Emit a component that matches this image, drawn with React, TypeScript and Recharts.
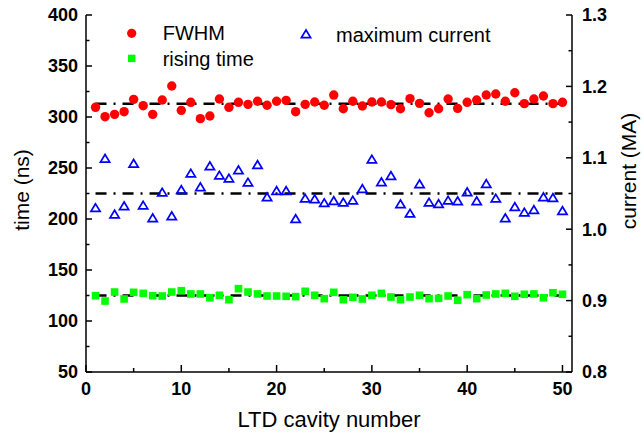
import React from 'react';
import { ScatterChart, Scatter, XAxis, YAxis, ReferenceLine, Legend } from 'recharts';

const cavity = [1,2,3,4,5,6,7,8,9,10,11,12,13,14,15,16,17,18,19,20,21,22,23,24,25,26,27,28,29,30,31,32,33,34,35,36,37,38,39,40,41,42,43,44,45,46,47,48,49,50];
const fwhm = [309.5,300.3,302.6,305.2,317.3,311.1,302.6,316.7,330.4,306.5,314.4,298.4,301,317.6,309.5,314.4,312.4,315.4,311.5,315.4,316.3,305.2,312.4,314.7,311.5,321.5,308.1,315.4,310.8,314.7,314.7,312.1,308.1,318,313.4,304.2,308.1,317.6,308.5,314.4,316.7,321.6,322.5,315.4,323.8,313.1,317.6,320.6,313.1,314.4];
const risingTime = [124.8,119.6,128.4,121.6,128.1,127.1,124.8,124.5,128.4,129.7,126.5,126.5,122.8,125.2,120.9,131.7,128.4,126.5,124.5,124.5,124.2,123.9,129.1,125.2,121.9,128.1,120.9,123.2,121.6,125.2,127.1,123.5,120.9,123.5,125.2,121.9,122.2,124.5,120.3,125.8,121.9,125.5,126.5,127.1,124.2,126.2,126.5,122.8,127.7,126.2];
const maxCurrent = [1.030,1.099,1.021,1.0325,1.092,1.0335,1.0157,1.0517,1.0185,1.0553,1.0783,1.0591,1.0885,1.0755,1.0713,1.0829,1.0657,1.0903,1.0451,1.0539,1.0539,1.0147,1.0433,1.0423,1.0369,1.0399,1.0377,1.0405,1.0567,1.0979,1.0661,1.0749,1.0353,1.0222,1.0633,1.0377,1.0357,1.0405,1.0395,1.0521,1.0395,1.0637,1.0433,1.0157,1.0315,1.0237,1.0273,1.0451,1.0441,1.0259];

const fwhmMean = 313;
const risingMean = 125;
const currentMean = 1.05;

const xTicks = [0,5,10,15,20,25,30,35,40,45,50];
const leftTicks = [50,75,100,125,150,175,200,225,250,275,300,325,350,375,400];
const rightTicks = [0.8,0.85,0.9,0.95,1.0,1.05,1.1,1.15,1.2,1.25,1.3];

const fwhmData = cavity.map((c, i) => ({ x: c, y: fwhm[i] }));
const risingData = cavity.map((c, i) => ({ x: c, y: risingTime[i] }));
const currentData = cavity.map((c, i) => ({ x: c, y: maxCurrent[i] }));

const FONT = '"Liberation Sans", Arial, sans-serif';
const TICK_FS = 18;
const MAJ = 6;
const MIN = 3.5;

const LeftTick = (p: any) => {
  const { x, y, payload } = p;
  const v = payload.value;
  const major = v % 50 === 0;
  return (
    <g>
      <line x1={x} y1={y} x2={x + (major ? MAJ : MIN)} y2={y} stroke="#000" strokeWidth={1.5} />
      {major && (
        <text x={x - 8} y={y} dy="0.36em" textAnchor="end" fontFamily={FONT} fontWeight="bold" fontSize={TICK_FS} fill="#000">{v}</text>
      )}
    </g>
  );
};

const RightTick = (p: any) => {
  const { x, y, payload } = p;
  const v = payload.value;
  const major = Math.round(v * 100) % 10 === 0;
  return (
    <g>
      <line x1={x} y1={y} x2={x - (major ? MAJ : MIN)} y2={y} stroke="#000" strokeWidth={1.5} />
      {major && (
        <text x={x + 10} y={y} dy="0.36em" textAnchor="start" fontFamily={FONT} fontWeight="bold" fontSize={TICK_FS} fill="#000">{v.toFixed(1)}</text>
      )}
    </g>
  );
};

const BottomTick = (p: any) => {
  const { x, y, payload } = p;
  const v = payload.value;
  const major = v % 10 === 0;
  return (
    <g>
      <line x1={x} y1={y} x2={x} y2={y - (major ? 7 : 4)} stroke="#000" strokeWidth={1.5} />
      {major && (
        <text x={x} y={y + 22.5} textAnchor="middle" fontFamily={FONT} fontWeight="bold" fontSize={TICK_FS} fill="#000">{v}</text>
      )}
    </g>
  );
};

const TopTick = (p: any) => {
  const { x, y, payload } = p;
  const v = payload.value;
  const major = v % 10 === 0;
  return <line x1={x} y1={y} x2={x} y2={y + (major ? 6 : 4)} stroke="#000" strokeWidth={1.5} />;
};

const Dot = (p: any) => <circle cx={p.cx} cy={p.cy} r={4.7} fill="#ff0000" />;
const Sq = (p: any) => <rect x={p.cx - 3.8} y={p.cy - 3.8} width={7.6} height={7.6} fill="#00ff00" />;
const Tri = (p: any) => (
  <polygon
    points={`${p.cx},${p.cy - 4} ${p.cx - 4.6},${p.cy + 3.6} ${p.cx + 4.6},${p.cy + 3.6}`}
    fill="none"
    stroke="#0000ff"
    strokeWidth={1.7}
    strokeLinejoin="miter"
  />
);

const LegendBox = () => (
  <svg width={642} height={80} style={{ display: 'block' }}>
    <circle cx={131.7} cy={33.3} r={4.6} fill="#ff0000" />
    <text x={162.7} y={40} fontFamily={FONT} fontSize={20} fill="#000">FWHM</text>
    <rect x={128} y={54.7} width={7.4} height={7.4} fill="#00ff00" />
    <text x={162.7} y={66} fontFamily={FONT} fontSize={20} fill="#000">rising time</text>
    <polygon points="306,30 301.4,37.6 310.6,37.6" fill="none" stroke="#0000ff" strokeWidth={1.7} />
    <text x={336} y={42} fontFamily={FONT} fontSize={20} fill="#000">maximum current</text>
  </svg>
);

const dashStyle = '11 7 2 7';

export default function App() {
  return (
    <div style={{ position: 'absolute', left: 0, top: 0 }}>
      <ScatterChart width={642} height={439} margin={{ top: 15, right: 0, bottom: 0, left: 0 }}>
        <XAxis
          xAxisId="b"
          type="number"
          dataKey="x"
          domain={[0, 51]}
          ticks={xTicks}
          interval={0}
          allowDataOverflow
          orientation="bottom"
          height={67}
          tickSize={0}
          tickMargin={0}
          tickLine={false}
          axisLine={{ stroke: '#000', strokeWidth: 1.5 }}
          tick={<BottomTick />}
          label={() => (
            <text x={329} y={427} textAnchor="middle" fontFamily={FONT} fontSize={22} fill="#000">LTD cavity number</text>
          )}
        />
        <XAxis
          xAxisId="t"
          type="number"
          dataKey="x"
          domain={[0, 51]}
          ticks={xTicks}
          interval={0}
          allowDataOverflow
          orientation="top"
          height={0}
          tickSize={0}
          tickMargin={0}
          tickLine={false}
          axisLine={{ stroke: '#000', strokeWidth: 1.5 }}
          tick={<TopTick />}
        />
        <YAxis
          yAxisId="l"
          type="number"
          dataKey="y"
          domain={[50, 400]}
          ticks={leftTicks}
          interval={0}
          allowDataOverflow
          orientation="left"
          width={86}
          tickSize={0}
          tickMargin={0}
          tickLine={false}
          axisLine={{ stroke: '#000', strokeWidth: 1.5 }}
          tick={<LeftTick />}
          label={() => (
            <text x={29} y={190} transform="rotate(-90 29 190)" textAnchor="middle" fontFamily={FONT} fontSize={21} fill="#000">time (ns)</text>
          )}
        />
        <YAxis
          yAxisId="r"
          type="number"
          dataKey="y"
          domain={[0.8, 1.3]}
          ticks={rightTicks}
          interval={0}
          allowDataOverflow
          orientation="right"
          width={70}
          tickSize={0}
          tickMargin={0}
          tickLine={false}
          axisLine={{ stroke: '#000', strokeWidth: 1.5 }}
          tick={<RightTick />}
          label={() => (
            <text x={636} y={171} transform="rotate(-90 636 171)" textAnchor="middle" fontFamily={FONT} fontSize={21} fill="#000">current (MA)</text>
          )}
        />
        <ReferenceLine xAxisId="b" yAxisId="l" segment={[{ x: 1, y: fwhmMean }, { x: 50, y: fwhmMean }]} stroke="#000" strokeWidth={2.5} strokeDasharray={dashStyle} />
        <ReferenceLine xAxisId="b" yAxisId="l" segment={[{ x: 1, y: risingMean }, { x: 50, y: risingMean }]} stroke="#000" strokeWidth={2.5} strokeDasharray={dashStyle} />
        <ReferenceLine xAxisId="b" yAxisId="r" segment={[{ x: 1, y: currentMean }, { x: 50, y: currentMean }]} stroke="#000" strokeWidth={2.5} strokeDasharray={dashStyle} />
        <Scatter name="FWHM" data={fwhmData} xAxisId="b" yAxisId="l" shape={Dot} isAnimationActive={false} />
        <Scatter name="rising time" data={risingData} xAxisId="b" yAxisId="l" shape={Sq} isAnimationActive={false} />
        <Scatter name="maximum current" data={currentData} xAxisId="b" yAxisId="r" shape={Tri} isAnimationActive={false} />
        <Legend
          layout="vertical"
          align="center"
          verticalAlign="middle"
          wrapperStyle={{ left: 0, top: 0, width: 642, height: 80 }}
          content={() => <LegendBox />}
        />
      </ScatterChart>
    </div>
  );
}
